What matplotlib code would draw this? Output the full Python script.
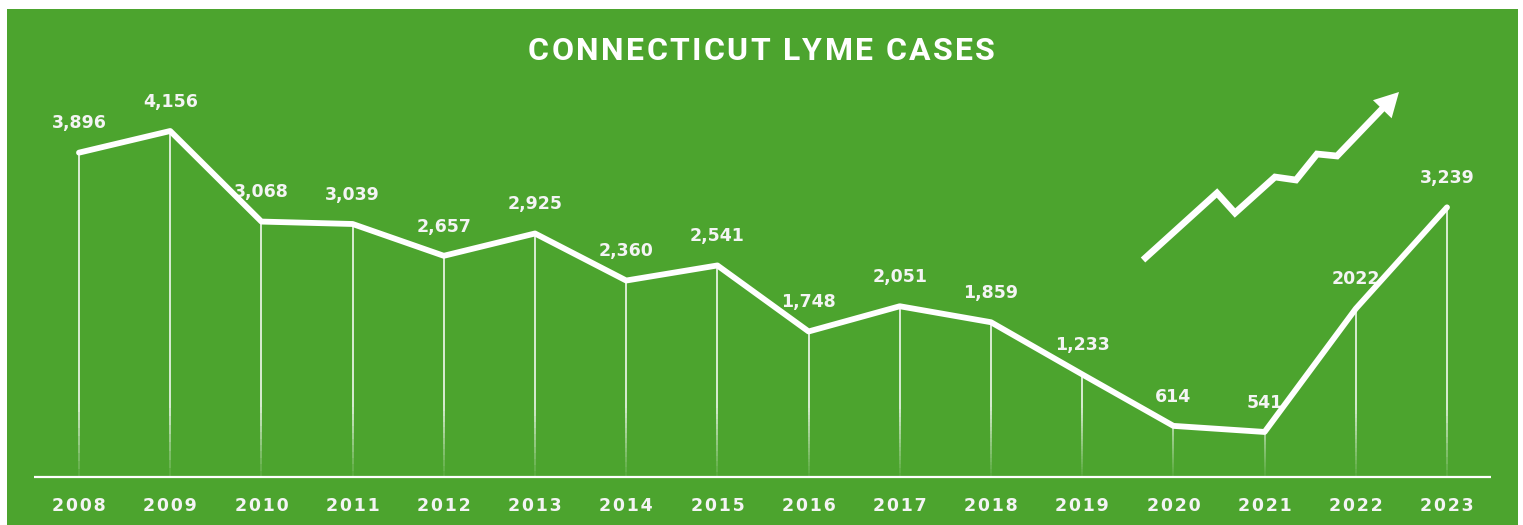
import numpy as np
import matplotlib
matplotlib.use("Agg")
import matplotlib.pyplot as plt
from matplotlib.patches import Rectangle, Polygon
from matplotlib.collections import LineCollection
from matplotlib.font_manager import FontProperties
from matplotlib.textpath import TextToPath

# ---- data ----
years = [2008, 2009, 2010, 2011, 2012, 2013, 2014, 2015, 2016, 2017, 2018, 2019, 2020, 2021, 2022, 2023]
cases = [3896, 4156, 3068, 3039, 2657, 2925, 2360, 2541, 1748, 2051, 1859, 1233, 614, 541, 2022, 3239]
labels = ["3,896", "4,156", "3,068", "3,039", "2,657", "2,925", "2,360", "2,541", "1,748",
          "2,051", "1,859", "1,233", "614", "541", "2022", "3,239"]
title = "CONNECTICUT LYME CASES"

GREEN = "#4ca42e"
W, H = 1523, 525
fig = plt.figure(figsize=(W / 100, H / 100), dpi=100, facecolor="white")

# green panel
fig.patches.append(Rectangle((7 / W, 0), (1518 - 7) / W, (H - 9) / H,
                             transform=fig.transFigure, facecolor=GREEN,
                             edgecolor="none", zorder=-5))

ax = fig.add_axes([0, 0, 1, 1])
ax.set_zorder(1)
ax.set_facecolor("none")
pxyr = (1447 - 79) / 15.0
ax.set_xlim(2008 - 79 / pxyr, 2008 + (W - 79) / pxyr)
pxv = (477 - 131) / 4156.0
ax.set_ylim(-(H - 477) / pxv, 477 / pxv)
ax.axis("off")

# drop lines with fading bottom
for x, v in zip(years, cases):
    n = 40
    ys = np.linspace(0, v, n + 1)
    segs = [[(x, ys[i]), (x, ys[i + 1])] for i in range(n)]
    mids = (ys[:-1] + ys[1:]) / 2
    alph = np.clip(0.05 + 0.85 * mids / 900.0, 0.05, 0.85)
    cols = [(1, 1, 1, a) for a in alph]
    ax.add_collection(LineCollection(segs, colors=cols, linewidths=1.3, zorder=2))

# baseline
ax.hlines(0, years[0] - 0.49, years[-1] + 0.48, color="white", lw=1.6, zorder=3)

# value labels
for x, v, s in zip(years, cases, labels):
    ax.annotate(s, xy=(x, v), xytext=(0, 21), textcoords="offset points",
                ha="center", va="center", color="#f4f4f4", fontsize=12.5,
                fontweight="bold", family="DejaVu Sans", zorder=4)

# main line
ax.plot(years, cases, color="white", lw=4.2, solid_joinstyle="round",
        solid_capstyle="round", zorder=5)

# year labels
for x in years:
    ax.annotate("\u200a".join(str(x)), xy=(x, 0), xytext=(0, -21), textcoords="offset points",
                ha="center", va="center", color="#f4f4f4", fontsize=12.5,
                fontweight="bold", family="DejaVu Sans", zorder=4)

# title with letter tracking
prop = FontProperties(family=["Roboto", "DejaVu Sans"], weight="bold", size=23)
ttp = TextToPath()
cw = [ttp.get_text_width_height_descent(c, prop, ismath=False)[0] * 100 / 72 for c in title]
x_left, x_right = 528, 995
track = ((x_right - x_left) - sum(cw)) / (len(title) - 1)
xc = x_left
for c, w in zip(title, cw):
    fig.text(xc / W, 1 - 51 / H, c, ha="left", va="center", color="white",
             fontproperties=prop, zorder=10)
    xc += w + track

# decorative trend arrow icon (pixel coords, top-left origin)
pts = [(1143, 260), (1217, 193), (1235, 213), (1275, 177), (1296, 180),
       (1317, 154), (1337, 156), (1383, 108)]
tip = np.array([1399, 92.0])
fx = [p[0] / W for p in pts]
fy = [1 - p[1] / H for p in pts]
fig.add_artist(plt.Line2D(fx, fy, color="white", lw=4.8, transform=fig.transFigure,
                          solid_joinstyle="miter", solid_capstyle="butt", zorder=10))
d = tip - np.array(pts[-2], dtype=float)
d /= np.linalg.norm(d)
perp = np.array([-d[1], d[0]])
base = tip - d * 24
head = [tip, base + perp * 13, base - perp * 13]
fig.add_artist(Polygon([(p[0] / W, 1 - p[1] / H) for p in head], closed=True,
                       transform=fig.transFigure, facecolor="white",
                       edgecolor="none", zorder=10))

fig.savefig("out.png", dpi=100, facecolor="white")
